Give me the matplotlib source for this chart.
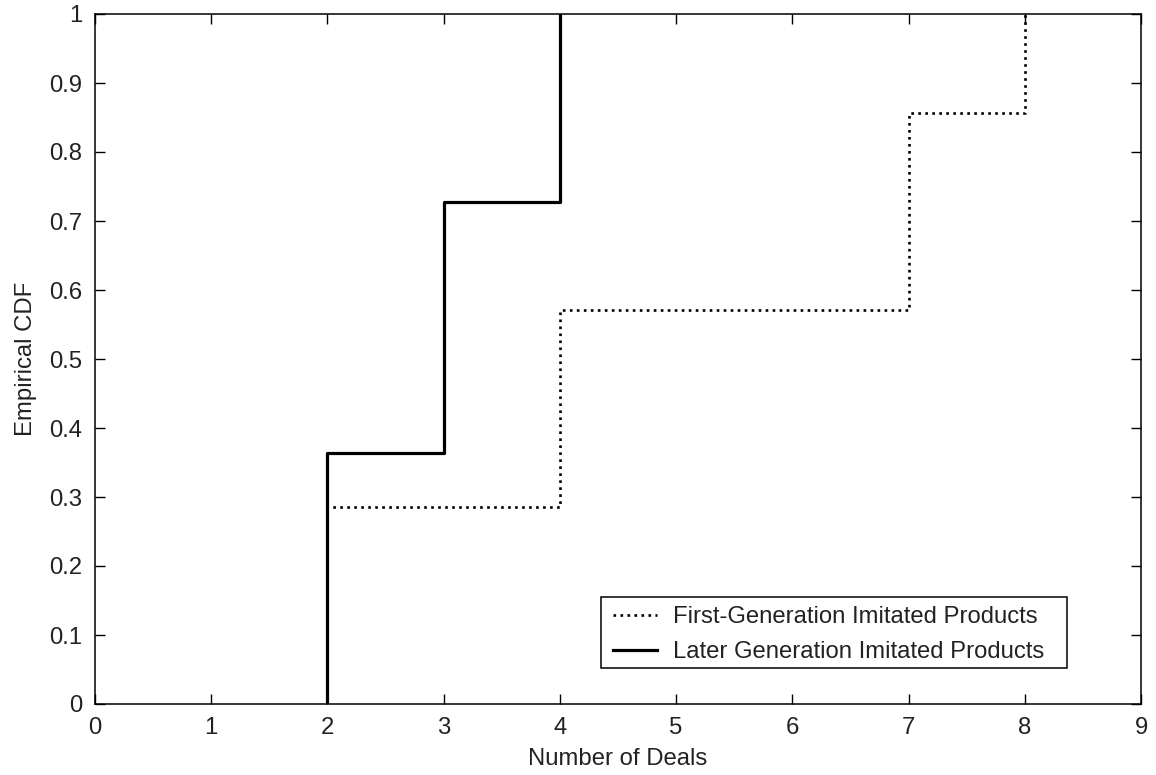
import matplotlib
matplotlib.use("Agg")
import matplotlib.pyplot as plt
from matplotlib.patches import Rectangle
import numpy as np

plt.rcParams['font.family'] = ['Liberation Sans', 'DejaVu Sans']

# Data (empirical CDF steps)
first_x = [2, 2, 4, 7, 8]
first_y = [0, 2/7, 4/7, 6/7, 1.0]
later_x = [2, 2, 3, 4]
later_y = [0, 4/11, 8/11, 1.0]
first_label = "First-Generation Imitated Products"
later_label = "Later Generation Imitated Products"
xticks = list(range(0, 10))
yticks = [0, 0.1, 0.2, 0.3, 0.4, 0.5, 0.6, 0.7, 0.8, 0.9, 1]
ytick_labels = ["0", "0.1", "0.2", "0.3", "0.4", "0.5", "0.6", "0.7", "0.8", "0.9", "1"]

W, H = 1156, 775
fig = plt.figure(figsize=(W/100, H/100), dpi=100)
left, right, top, bottom = 95, 1141, 14, 704
aw, ah = right - left, bottom - top
ax = fig.add_axes([left/W, 1 - bottom/H, aw/W, ah/H])

def axfrac(px, py):
    return (px - left) / aw, (bottom - py) / ah

fs = 17.2
ax.plot(first_x, first_y, drawstyle='steps-post', color='black', lw=1.9,
        linestyle=(0, (1, 1.65)), label=first_label, zorder=2)
ax.plot(later_x, later_y, drawstyle='steps-post', color='black', lw=2.3,
        linestyle='-', label=later_label, zorder=3)

ax.set_xlim(0, 9)
ax.set_ylim(0, 1)
ax.set_xticks(xticks)
ax.set_yticks(yticks)
ax.set_yticklabels(ytick_labels)
ax.tick_params(direction='in', length=7, width=1, top=True, right=True,
               labelsize=fs, colors='black', labelcolor='#222222', pad=9)
for s in ax.spines.values():
    s.set_linewidth(1.1)
ax.set_xlabel("Number of Deals", fontsize=fs, color='#222222', labelpad=7)
ax.set_ylabel("Empirical CDF", fontsize=fs, color='#222222', labelpad=9)

# legend frame (MATLAB style box)
x0, y0 = axfrac(601, 668)
x1, y1 = axfrac(1067, 597)
ax.add_patch(Rectangle((x0, y0), x1 - x0, y1 - y0, transform=ax.transAxes,
                       facecolor='white', edgecolor='black', lw=1.1, zorder=4,
                       clip_on=False))
leg = ax.legend(loc='center left', bbox_to_anchor=axfrac(613, 634.5),
                fontsize=fs, frameon=False,
                handlelength=1.83, handletextpad=0.67, borderpad=0, labelspacing=0.55,
                borderaxespad=0)
leg.set_zorder(5)
for t in leg.get_texts():
    t.set_color('#222222')

fig.savefig("out.png", dpi=100)
